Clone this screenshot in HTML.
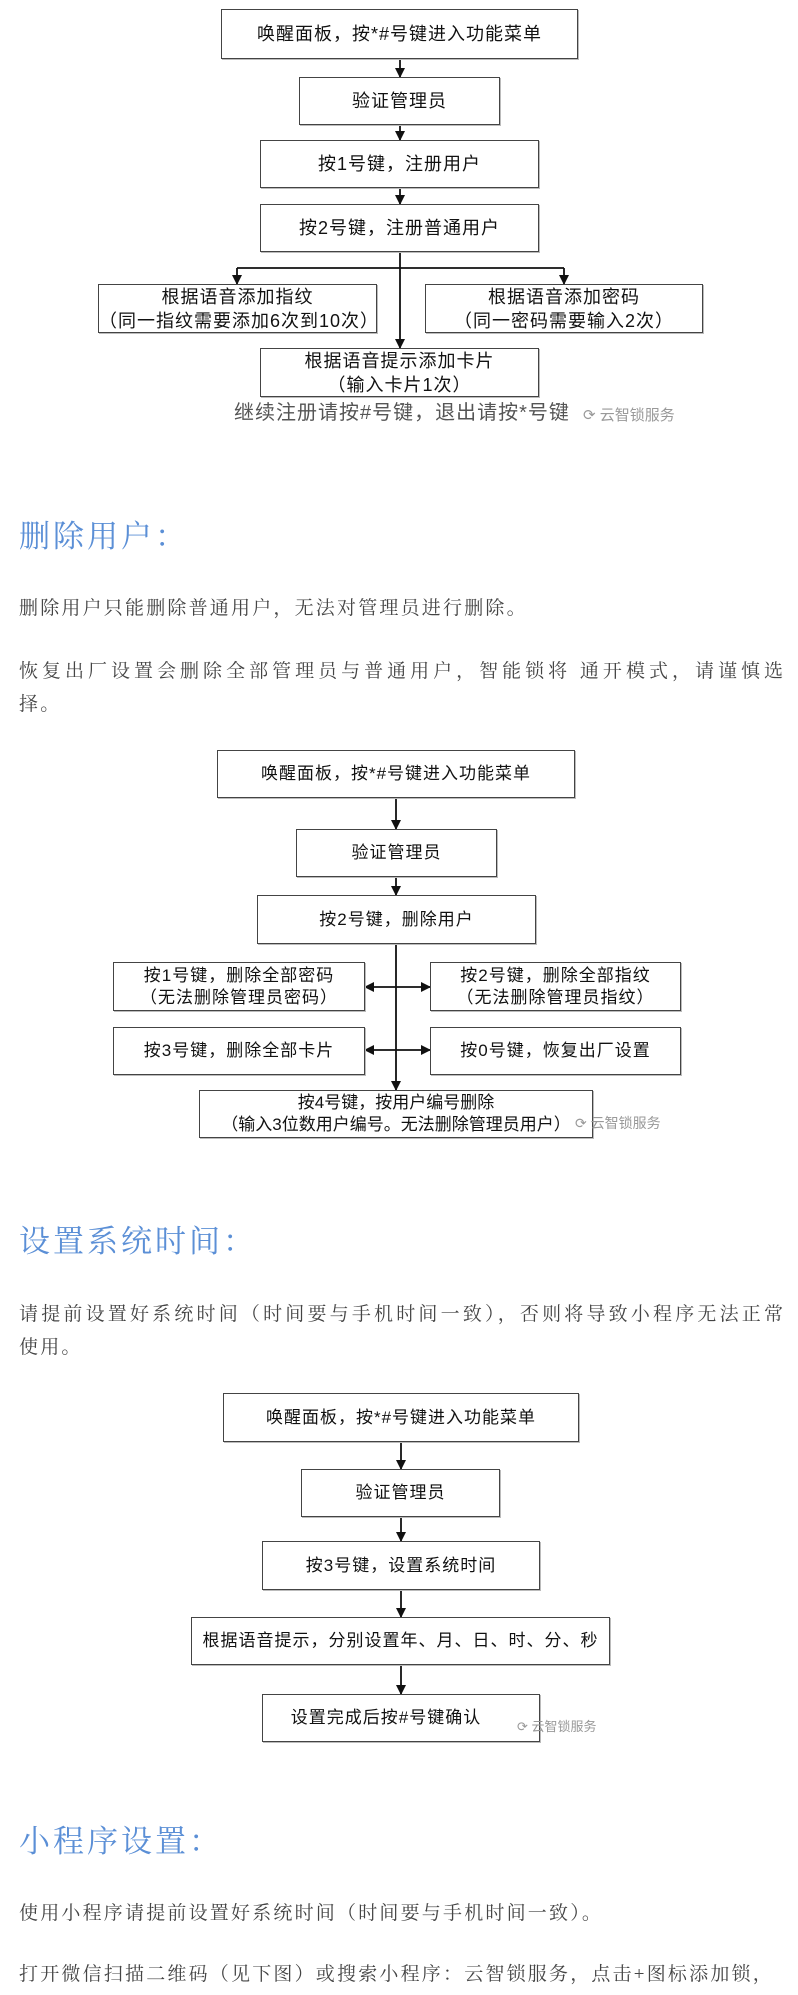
<!DOCTYPE html>
<html><head><meta charset="utf-8">
<style>
html,body{margin:0;padding:0;background:#fff;}
body{width:798px;height:1995px;position:relative;overflow:hidden;font-family:"Liberation Sans","Noto Sans CJK SC",sans-serif;color:#222;}
.b{position:absolute;box-sizing:border-box;border:1.5px solid #444;background:#fff;display:flex;align-items:center;justify-content:center;text-align:center;font-size:18px;line-height:24px;letter-spacing:1px;color:#111;box-shadow:1px 1px 0 #bbb;}
.s{font-size:17px;line-height:22px;}
.h{position:absolute;left:19px;font-family:"Liberation Serif","Noto Serif CJK SC",serif;font-size:31px;color:#5b8fd6;letter-spacing:3px;line-height:40px;}
.p{position:absolute;left:19px;width:764px;font-family:"Liberation Serif","Noto Serif CJK SC",serif;font-size:19px;color:#444;letter-spacing:2.2px;line-height:33px;}
.j{text-align:justify;text-align-last:justify;letter-spacing:0;white-space:nowrap;}
.wm{position:absolute;color:#999;font-size:15px;}
svg{position:absolute;left:0;top:0;}
</style></head><body>
<svg width="798" height="1995">
<defs><marker id="a" markerWidth="10" markerHeight="10" refX="9" refY="5" orient="auto" markerUnits="userSpaceOnUse"><path d="M0,0 L10,5 L0,10 z" fill="#111"/></marker></defs>
<g stroke="#111" stroke-width="1.8" fill="none">
<line x1="400" y1="59" x2="400" y2="77" marker-end="url(#a)"/>
<line x1="400" y1="125" x2="400" y2="140" marker-end="url(#a)"/>
<line x1="400" y1="188" x2="400" y2="204" marker-end="url(#a)"/>
<line x1="400" y1="252" x2="400" y2="348" marker-end="url(#a)"/>
<line x1="237" y1="268" x2="564" y2="268"/>
<line x1="237" y1="268" x2="237" y2="284" marker-end="url(#a)"/>
<line x1="564" y1="268" x2="564" y2="284" marker-end="url(#a)"/>
<line x1="396" y1="798" x2="396" y2="829" marker-end="url(#a)"/>
<line x1="396" y1="877" x2="396" y2="895" marker-end="url(#a)"/>
<line x1="396" y1="944" x2="396" y2="1090" marker-end="url(#a)"/>
<line x1="396" y1="987" x2="365" y2="987" marker-end="url(#a)"/>
<line x1="396" y1="987" x2="430" y2="987" marker-end="url(#a)"/>
<line x1="396" y1="1050" x2="365" y2="1050" marker-end="url(#a)"/>
<line x1="396" y1="1050" x2="430" y2="1050" marker-end="url(#a)"/>
<line x1="401" y1="1442" x2="401" y2="1469" marker-end="url(#a)"/>
<line x1="401" y1="1517" x2="401" y2="1541" marker-end="url(#a)"/>
<line x1="401" y1="1590" x2="401" y2="1617" marker-end="url(#a)"/>
<line x1="401" y1="1665" x2="401" y2="1694" marker-end="url(#a)"/>
</g></svg>

<div class="b" style="left:221px;top:9px;width:357px;height:50px;">唤醒面板，按*#号键进入功能菜单</div>
<div class="b" style="left:299px;top:77px;width:201px;height:48px;">验证管理员</div>
<div class="b" style="left:260px;top:140px;width:279px;height:48px;">按1号键，注册用户</div>
<div class="b" style="left:260px;top:204px;width:279px;height:48px;">按2号键，注册普通用户</div>
<div class="b" style="left:98px;top:284px;width:279px;height:49px;">根据语音添加指纹<br>（同一指纹需要添加6次到10次）</div>
<div class="b" style="left:425px;top:284px;width:278px;height:49px;">根据语音添加密码<br>（同一密码需要输入2次）</div>
<div class="b" style="left:260px;top:348px;width:279px;height:49px;">根据语音提示添加卡片<br>（输入卡片1次）</div>
<div style="position:absolute;left:234px;top:400px;font-size:20px;color:#555;letter-spacing:1px;line-height:26px;">继续注册请按#号键，退出请按*号键</div>
<div class="wm" style="left:583px;top:404px;">⟳ 云智锁服务</div>

<div class="h" style="top:517px;">删除用户：</div>
<div class="p" style="top:592px;">删除用户只能删除普通用户，无法对管理员进行删除。</div>
<div class="p" style="top:655px;"><div class="j">恢复出厂设置会删除全部管理员与普通用户，智能锁将 通开模式，请谨慎选</div>择。</div>

<div class="b s" style="left:217px;top:750px;width:358px;height:48px;">唤醒面板，按*#号键进入功能菜单</div>
<div class="b s" style="left:296px;top:829px;width:201px;height:48px;">验证管理员</div>
<div class="b s" style="left:257px;top:895px;width:279px;height:49px;">按2号键，删除用户</div>
<div class="b s" style="left:113px;top:962px;width:252px;height:49px;">按1号键，删除全部密码<br>（无法删除管理员密码）</div>
<div class="b s" style="left:430px;top:962px;width:251px;height:49px;">按2号键，删除全部指纹<br>（无法删除管理员指纹）</div>
<div class="b s" style="left:113px;top:1027px;width:252px;height:48px;">按3号键，删除全部卡片</div>
<div class="b s" style="left:430px;top:1027px;width:251px;height:48px;">按0号键，恢复出厂设置</div>
<div class="b s" style="left:199px;top:1090px;width:394px;height:48px;letter-spacing:0;">按4号键，按用户编号删除<br>（输入3位数用户编号。无法删除管理员用户）</div>
<div class="wm" style="left:575px;top:1113px;font-size:14px;">⟳ 云智锁服务</div>

<div class="h" style="top:1222px;">设置系统时间：</div>
<div class="p" style="top:1298px;"><div class="j">请提前设置好系统时间（时间要与手机时间一致），否则将导致小程序无法正常</div>使用。</div>

<div class="b s" style="left:223px;top:1393px;width:356px;height:49px;">唤醒面板，按*#号键进入功能菜单</div>
<div class="b s" style="left:301px;top:1469px;width:199px;height:48px;">验证管理员</div>
<div class="b s" style="left:262px;top:1541px;width:278px;height:49px;">按3号键，设置系统时间</div>
<div class="b s" style="left:191px;top:1617px;width:419px;height:48px;">根据语音提示，分别设置年、月、日、时、分、秒</div>
<div class="b s" style="left:262px;top:1694px;width:278px;height:48px;padding-right:30px;">设置完成后按#号键确认</div>
<div class="wm" style="left:517px;top:1716px;font-size:13px;">⟳ 云智锁服务</div>

<div class="h" style="top:1822px;">小程序设置：</div>
<div class="p" style="top:1897px;">使用小程序请提前设置好系统时间（时间要与手机时间一致）。</div>
<div class="p" style="top:1958px;">打开微信扫描二维码（见下图）或搜索小程序：云智锁服务，点击+图标添加锁，</div>
</body></html>
